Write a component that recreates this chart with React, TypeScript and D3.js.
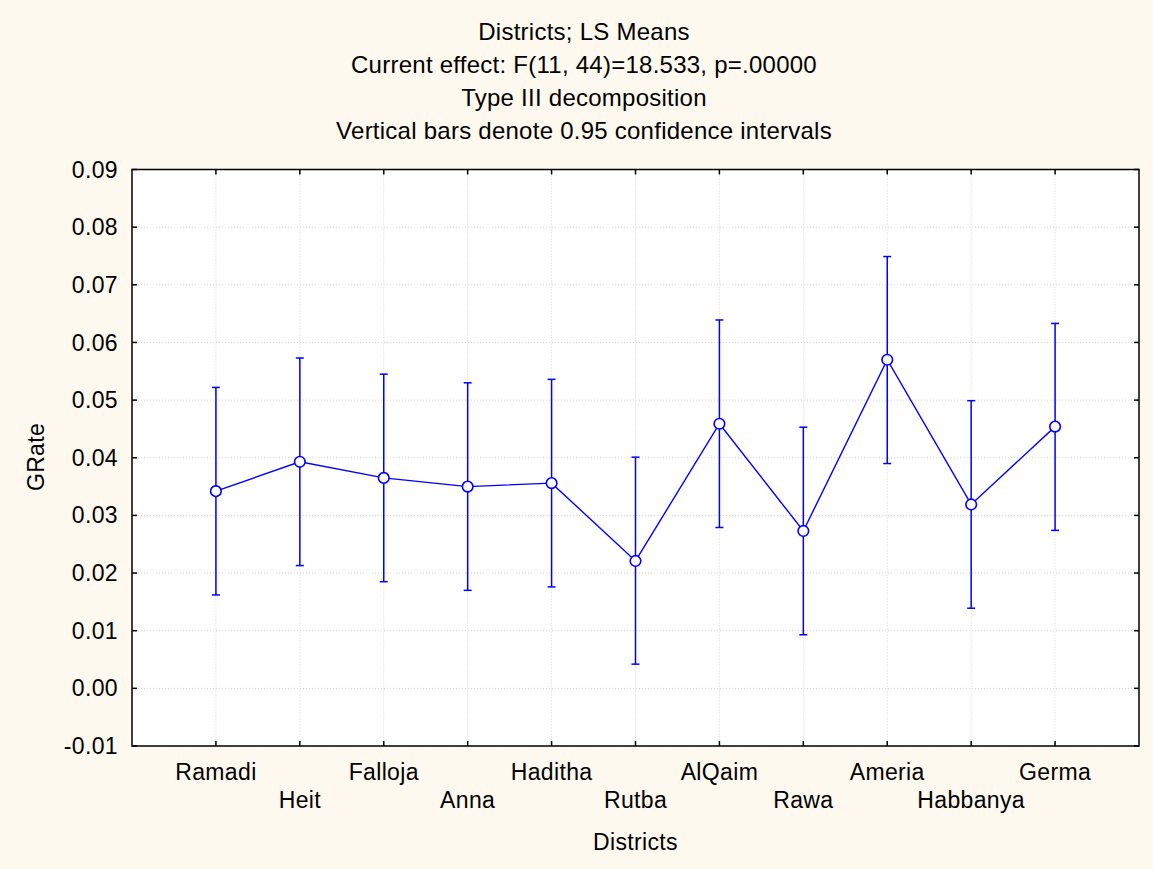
import React from "react";
import * as d3 from "d3";

const districts = ["Ramadi", "Heit", "Falloja", "Anna", "Haditha", "Rutba", "AlQaim", "Rawa", "Ameria", "Habbanya", "Germa"];
const means = [0.0342, 0.0393, 0.0365, 0.035, 0.0356, 0.0221, 0.0459, 0.0273, 0.057, 0.0319, 0.0454];
const lower = [0.0162, 0.0213, 0.0185, 0.017, 0.0176, 0.0042, 0.0279, 0.0093, 0.039, 0.0139, 0.0274];
const upper = [0.0522, 0.0573, 0.0545, 0.053, 0.0536, 0.0401, 0.0639, 0.0453, 0.0749, 0.0499, 0.0633];
const yTicks = [-0.01, 0, 0.01, 0.02, 0.03, 0.04, 0.05, 0.06, 0.07, 0.08, 0.09];
const titleLines = [
  "Districts; LS Means",
  "Current effect: F(11, 44)=18.533, p=.00000",
  "Type III decomposition",
  "Vertical bars denote 0.95 confidence intervals",
];

const W = 1153;
const H = 869;
const L = 132, R = 1139, T = 169.5, B = 746;
const FONT = "'Liberation Sans', Arial, sans-serif";
const FS = 23;
const LS = 0.35;
const BLUE = "#0000ff";

export default function App() {
  const x = d3.scalePoint<string>().domain(districts).range([L, R]).padding(1);
  const y = d3.scaleLinear().domain([-0.01, 0.09]).range([B, T]);
  const line = d3.line<number>().x((_, i) => x(districts[i])!).y((d) => y(d));
  const fmt = (v: number) => d3.format(".2f")(v).replace("\u2212", "-");

  return (
    <svg width={W} height={H} style={{ position: "absolute", left: 0, top: 0, background: "#fdf9ef" }} fontFamily={FONT}>
      <rect x={0} y={0} width={W} height={H} fill="#fdf9ef" />
      <rect x={L} y={T} width={R - L} height={B - T} fill="#ffffff" />
      {/* grid */}
      {yTicks.map((t) => (
        <line key={"gy" + t} x1={L} x2={R} y1={y(t)} y2={y(t)} stroke="#d4d4d4" strokeWidth={1} strokeDasharray="1,2" />
      ))}
      {districts.map((d) => (
        <line key={"gx" + d} x1={x(d)} x2={x(d)} y1={T} y2={B} stroke="#d4d4d4" strokeWidth={1} strokeDasharray="1,2" />
      ))}
      {/* ticks */}
      {yTicks.map((t) => (
        <g key={"ty" + t}>
          <line x1={L} x2={L + 5} y1={y(t)} y2={y(t)} stroke="#000" strokeWidth={1.5} />
          <line x1={R - 5} x2={R} y1={y(t)} y2={y(t)} stroke="#000" strokeWidth={1.5} />
          <text x={118} y={y(t)} dy="0.35em" textAnchor="end" fontSize={FS} letterSpacing={LS} fill="#000">{fmt(t)}</text>
        </g>
      ))}
      {districts.map((d, i) => (
        <g key={"tx" + d}>
          <line x1={x(d)} x2={x(d)} y1={T} y2={T + 5} stroke="#000" strokeWidth={1.5} />
          <line x1={x(d)} x2={x(d)} y1={B - 5} y2={B} stroke="#000" strokeWidth={1.5} />
          <text x={x(d)} y={i % 2 === 0 ? 780 : 808} textAnchor="middle" fontSize={FS} letterSpacing={LS} fill="#000">{d}</text>
        </g>
      ))}
      <rect x={L} y={T} width={R - L} height={B - T} fill="none" stroke="#000" strokeWidth={1.5} />
      {/* error bars */}
      {districts.map((d, i) => (
        <g key={"eb" + d} stroke={BLUE} strokeWidth={1.5}>
          <line x1={x(d)} x2={x(d)} y1={y(lower[i])} y2={y(upper[i])} />
          <line x1={x(d)! - 4} x2={x(d)! + 4} y1={y(lower[i])} y2={y(lower[i])} />
          <line x1={x(d)! - 4} x2={x(d)! + 4} y1={y(upper[i])} y2={y(upper[i])} />
        </g>
      ))}
      <path d={line(means) || ""} fill="none" stroke={BLUE} strokeWidth={1.4} />
      {districts.map((d, i) => (
        <circle key={"pt" + d} cx={x(d)} cy={y(means[i])} r={5.3} fill="#fff" stroke={BLUE} strokeWidth={1.6} />
      ))}
      {/* titles */}
      {titleLines.map((t, i) => (
        <text key={"tt" + i} x={584} y={40 + i * 33} textAnchor="middle" fontSize={24} letterSpacing={0.25} fill="#000">{t}</text>
      ))}
      <text x={635.5} y={850} textAnchor="middle" fontSize={FS} letterSpacing={LS} fill="#000">Districts</text>
      <text transform={`translate(44,457) rotate(-90)`} textAnchor="middle" fontSize={FS} letterSpacing={LS} fill="#000">GRate</text>
    </svg>
  );
}
